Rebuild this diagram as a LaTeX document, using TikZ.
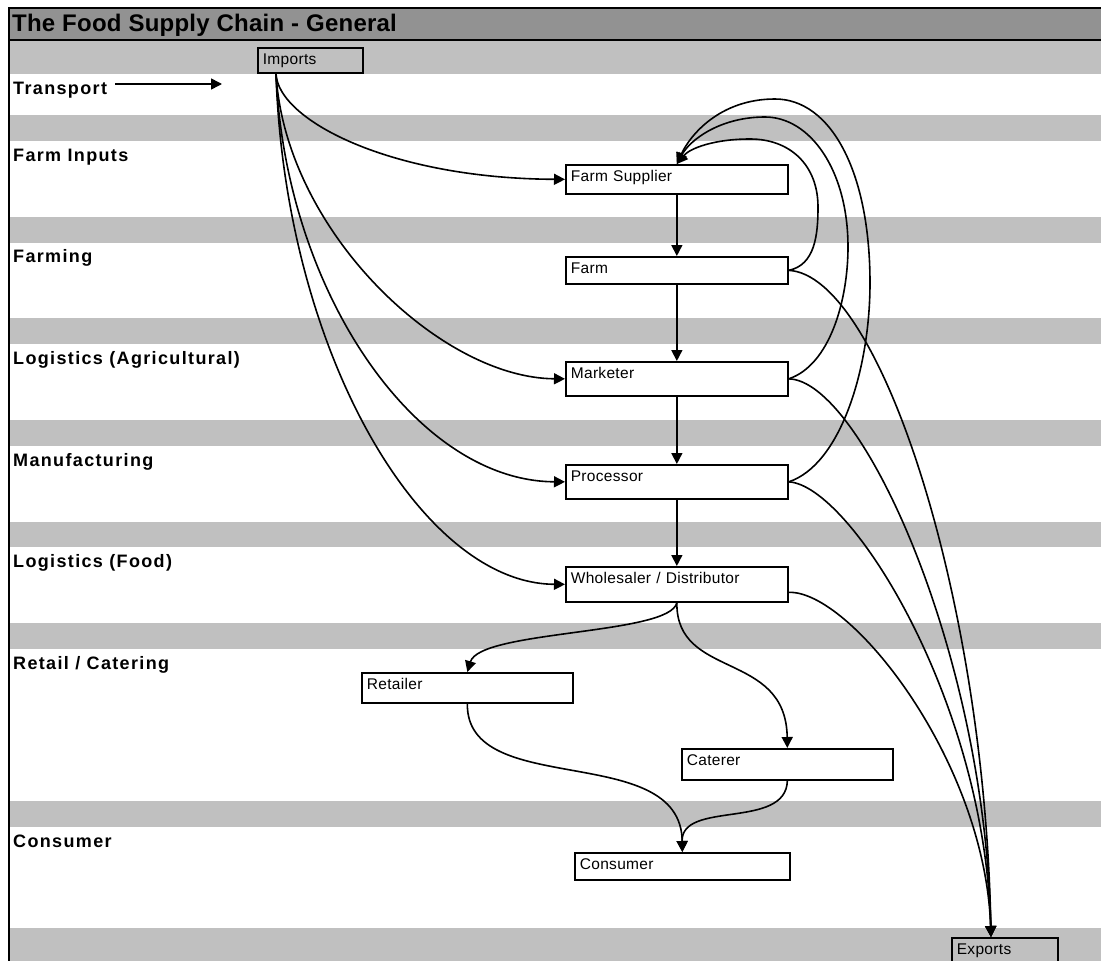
\documentclass[tikz,border=0pt]{standalone}
\usepackage{fontspec}
\setmainfont{Liberation Sans}
\newfontfamily\lblfont[LetterSpace=7.5]{Liberation Sans}
\newfontfamily\bxfont[LetterSpace=2]{Liberation Sans}
\newfontfamily\ttlfont[LetterSpace=1]{Liberation Sans}
\usetikzlibrary{arrows.meta}
\definecolor{band}{RGB}{192,192,192}
\definecolor{titlegrey}{RGB}{146,146,146}
\tikzset{
  bx/.style={draw, fill=white, line width=1.7pt, anchor=north west, inner xsep=5pt, inner ysep=0pt,
    text height=16.5pt, align=left, font=\bxfont\fontsize{15.5}{17}\selectfont},
  lbl/.style={anchor=base west, inner sep=0pt, font=\lblfont\bfseries\fontsize{18}{20}\selectfont},
  conn/.style={line width=1.6pt, -{Triangle[length=11pt,width=11pt]}},
}
\begin{document}
\begin{tikzpicture}[x=1pt,y=-1pt]
\useasboundingbox (0,0) rectangle (1101,961);
% title bar
\fill[titlegrey] (9,8) rectangle (1101,40);
\draw[line width=1.6pt] (9,8) -- (1101,8);
\draw[line width=1.6pt] (9,40) -- (1101,40);
\node[anchor=base west, inner sep=0pt, font=\ttlfont\bfseries\fontsize{24}{26}\selectfont] (title) at (12,31) {The Food Supply Chain - General};
% bands
\foreach \a/\b in {41/74,115/141,217/243,318/344,420/446,522/547,623/649,801/827,928/961}
  \fill[band] (10,\a) rectangle (1101,\b);
\draw[line width=2.6pt] (9,7) -- (9,961);
% row labels
\node[lbl] (lt) at (13,94) {Transport};
\node[lbl] (l1) at (13,161) {Farm Inputs};
\node[lbl] (l2) at (13,262) {Farming};
\node[lbl] (l3) at (13,364) {Logistics (Agricultural)};
\node[lbl] (l4) at (13,466) {Manufacturing};
\node[lbl] (l5) at (13,567) {Logistics (Food)};
\node[lbl] (l6) at (13,669) {Retail / Catering};
\node[lbl] (l7) at (13,847) {Consumer};
\coordinate (tend) at (222,84);
\draw[conn] (115,84) -- (tend);
% boxes
\node[bx, fill=band, text width=95pt, text depth=8.5pt] (imp) at (257,47) {Imports};
\node[bx, text width=212pt, text depth=12.5pt] (fs) at (565,164) {Farm Supplier};
\node[bx, text width=212pt, text depth=10.5pt] (farm) at (565,256) {Farm};
\node[bx, text width=212pt, text depth=17.5pt] (mkt) at (565,361) {Marketer};
\node[bx, text width=212pt, text depth=17.5pt] (proc) at (565,464) {Processor};
\node[bx, text width=212pt, text depth=18.5pt] (whs) at (565,566) {Wholesaler / Distributor};
\node[bx, text width=201pt, text depth=13.5pt] (ret) at (361,672) {Retailer};
\node[bx, text width=201pt, text depth=14.5pt] (cat) at (681,748) {Caterer};
\node[bx, text width=205pt, text depth=10.5pt] (con) at (574,852) {Consumer};
\node[bx, fill=band, text width=96pt, text depth=7.5pt] (exp) at (951,937) {Exports};
\coordinate (impo) at ([xshift=19pt]imp.south west);
\coordinate (expi) at ([xshift=40pt]exp.north west);
% imports
\draw[conn] (impo) .. controls (278,120) and (390,178.5) .. (fs.west);
\draw[conn] (impo) .. controls (285,230) and (440,378) .. (mkt.west);
\draw[conn] (impo) .. controls (285,290) and (415,481) .. (proc.west);
\draw[conn] (impo) .. controls (285,350) and (420,583.5) .. (whs.west);
% main chain
\draw[conn] (fs.south) -- (farm.north);
\draw[conn] (farm.south) -- (mkt.north);
\draw[conn] (mkt.south) -- (proc.north);
\draw[conn] (proc.south) -- (whs.north);
% feedback to farm supplier
\draw[conn] (farm.east) .. controls (815,265) and (818,235) .. (818,207)
  .. controls (818,165) and (790,139) .. (750,139) .. controls (715,139) and (690,148) .. (fs.north);
\draw[conn] (mkt.east) .. controls (830,365) and (848,300) .. (848,247)
  .. controls (848,170) and (810,117) .. (765,117) .. controls (720,117) and (690,140) .. (fs.north);
\draw[conn] (proc.east) .. controls (840,465) and (870,370) .. (870,283)
  .. controls (870,170) and (830,99) .. (775,99) .. controls (720,99) and (690,135) .. (fs.north);
% exports
\draw[conn] (farm.east) .. controls (880,275) and (985,600) .. (expi);
\draw[conn] (mkt.east) .. controls (860,380) and (985,650) .. (expi);
\draw[conn] (proc.east) .. controls (850,485) and (985,700) .. (expi);
\draw[conn] ([yshift=-8pt]whs.east) .. controls (850,590) and (985,760) .. (expi);
% distribution
\draw[conn] (whs.south) .. controls (670,635) and (480,630) .. (ret.north);
\draw[conn] (whs.south) .. controls (676,680) and (786,650) .. (cat.north);
\draw[conn] (ret.south) .. controls (466,800) and (681,740) .. (con.north);
\draw[conn] (cat.south) .. controls (786,830) and (681,800) .. (con.north);
\end{tikzpicture}
\end{document}
